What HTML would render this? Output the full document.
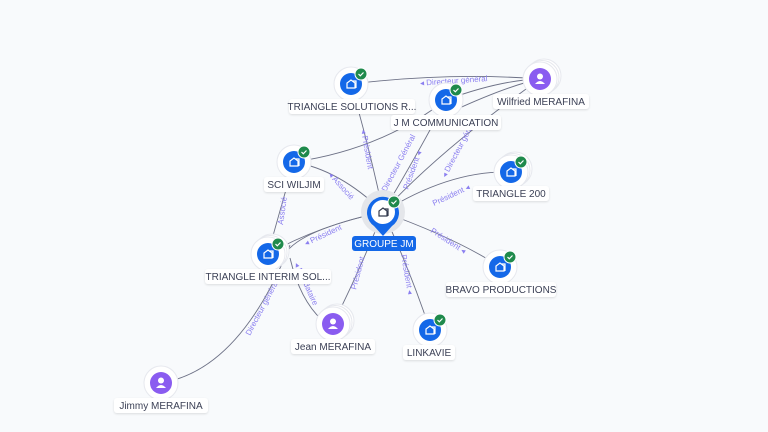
<!DOCTYPE html>
<html><head><meta charset="utf-8"><style>
html,body{margin:0;padding:0;background:#f8fafc;}
svg{display:block;font-family:"Liberation Sans",sans-serif;}
.l{fill:#8b7ff0;font-size:8px;}
.n{fill:#3c4156;font-size:10px;}
</style></head><body>
<svg width="768" height="432" viewBox="0 0 768 432" xmlns="http://www.w3.org/2000/svg">
<defs>
<filter id="sh" x="-10%" y="-30%" width="120%" height="160%"><feDropShadow dx="0" dy="1" stdDeviation="1" flood-color="#000" flood-opacity="0.12"/></filter>
<g id="co"><circle r="17" fill="#fff" stroke="#e6e8ee"/><circle r="11" fill="#1468e8"/>
<path d="M-4 4 V-1 L0 -4 L4 -1 V4 Z M1 -3 H5 V4" fill="none" stroke="#fff" stroke-width="1.2"/>
<circle cx="10" cy="-10" r="6" fill="#1f8a4c" stroke="#fff" stroke-width="1"/><path d="M7.5 -10 L9.3 -8.2 L12.5 -11.5" fill="none" stroke="#fff" stroke-width="1.2"/></g>
<g id="pe"><circle r="17" fill="#fff" stroke="#e6e8ee"/><circle r="11" fill="#8a5cf0"/>
<circle cy="-2.5" r="3" fill="#fff"/><path d="M-5 5 Q0 -1 5 5 Z" fill="#fff"/></g>
<g id="st"><circle cx="4" cy="-3" r="17" fill="#fff" stroke="#e6e8ee"/><circle cx="2" cy="-1.5" r="17" fill="#fff" stroke="#e6e8ee"/></g>
</defs>
<g fill="none" stroke="#6d7186" stroke-width="0.9">
<path d="M383 212 Q370 150 351 84"/>
<path d="M383 212 Q420 150 446 100"/>
<path d="M383 212 Q440 150 540 79"/>
<path d="M383 212 Q450 170 511 172"/>
<path d="M383 212 Q340 170 294 162"/>
<path d="M383 212 Q320 225 268 254"/>
<path d="M383 212 Q300 230 285 254"/>
<path d="M383 212 Q460 240 500 267"/>
<path d="M383 212 Q360 270 333 324"/>
<path d="M383 212 Q410 270 430 330"/>
<path d="M351 84 Q450 72 540 79"/>
<path d="M446 100 Q500 80 540 79"/>
<path d="M455 110 Q510 85 540 79"/>
<path d="M294 162 Q380 150 446 100"/>
<path d="M294 162 Q280 210 268 254"/>
<path d="M290 258 Q300 300 322 320"/>
<path d="M161 383 Q240 370 290 245"/>
</g>
<g class="l">
<text x="420" y="84" transform="rotate(-4 445 82)">◂ Directeur général</text>
<text x="0" y="0" transform="translate(361 130) rotate(80)">◂ Président</text>
<text x="0" y="0" transform="translate(386 192) rotate(-62)">Directeur Général</text>
<text x="0" y="0" transform="translate(408 190) rotate(-70)">Président ◂</text>
<text x="0" y="0" transform="translate(446 178) rotate(-62)">◂ Directeur général</text>
<text x="0" y="0" transform="translate(434 206) rotate(-25)">Président ◂</text>
<text x="0" y="0" transform="translate(328 175) rotate(48)">◂ Associé</text>
<text x="0" y="0" transform="translate(283 225) rotate(-82)">Associé</text>
<text x="0" y="0" transform="translate(306 246) rotate(-25)">◂ Président</text>
<text x="0" y="0" transform="translate(430 232) rotate(33)">Président ◂</text>
<text x="0" y="0" transform="translate(356 290) rotate(-75)">Président</text>
<text x="0" y="0" transform="translate(401 255) rotate(80)">Président ◂</text>
<text x="0" y="0" transform="translate(294 264) rotate(65)">◂ Mandataire</text>
<text x="0" y="0" transform="translate(250 336) rotate(-62)">Directeur général</text>
</g>
<use href="#co" x="351" y="84"/>
<use href="#co" x="446" y="100"/>
<use href="#st" x="540" y="79"/><use href="#pe" x="540" y="79"/>
<use href="#co" x="294" y="162"/>
<use href="#st" x="511" y="172"/><use href="#co" x="511" y="172"/>
<use href="#st" x="268" y="254"/><use href="#co" x="268" y="254"/>
<use href="#co" x="500" y="267"/>
<use href="#st" x="333" y="324"/><use href="#pe" x="333" y="324"/>
<use href="#co" x="430" y="330"/>
<use href="#pe" x="161" y="383"/>
<circle cx="383" cy="212" r="22" fill="#e4e6ea"/>
<path d="M383 236 L374 226 A16 16 0 1 1 392 226 Z" fill="#1468e8"/>
<circle cx="383" cy="212" r="12" fill="#fff"/>
<path d="M379 216 V211 L383 208 L387 211 V216 Z M384 209 H388 V216" fill="none" stroke="#333a4d" stroke-width="1.2"/>
<circle cx="394" cy="202" r="6" fill="#1f8a4c" stroke="#fff"/><path d="M391.5 202 L393.3 203.8 L396.5 200.5" fill="none" stroke="#fff" stroke-width="1.2"/>
<rect x="352" y="236" width="64" height="15" rx="3" fill="#1468e8"/>
<text x="384" y="247" text-anchor="middle" fill="#fff" font-size="10">GROUPE JM</text>
<g class="n" text-anchor="middle">
<g filter="url(#sh)" fill="#fff">
<rect x="289" y="99" width="126" height="15" rx="3"/>
<rect x="391" y="115" width="110" height="15" rx="3"/>
<rect x="493" y="94" width="96" height="15" rx="3"/>
<rect x="264" y="177" width="60" height="15" rx="3"/>
<rect x="473" y="186" width="76" height="15" rx="3"/>
<rect x="205" y="269" width="126" height="15" rx="3"/>
<rect x="446" y="282" width="110" height="15" rx="3"/>
<rect x="291" y="339" width="84" height="15" rx="3"/>
<rect x="403" y="345" width="52" height="15" rx="3"/>
<rect x="114" y="398" width="94" height="15" rx="3"/>
</g>
<text x="352" y="110">TRIANGLE SOLUTIONS R...</text>
<text x="446" y="126">J M COMMUNICATION</text>
<text x="541" y="105">Wilfried MERAFINA</text>
<text x="294" y="188">SCI WILJIM</text>
<text x="511" y="197">TRIANGLE 200</text>
<text x="268" y="280">TRIANGLE INTERIM SOL...</text>
<text x="501" y="293">BRAVO PRODUCTIONS</text>
<text x="333" y="350">Jean MERAFINA</text>
<text x="429" y="356">LINKAVIE</text>
<text x="161" y="409">Jimmy MERAFINA</text>
</g>
</svg>
</body></html>
